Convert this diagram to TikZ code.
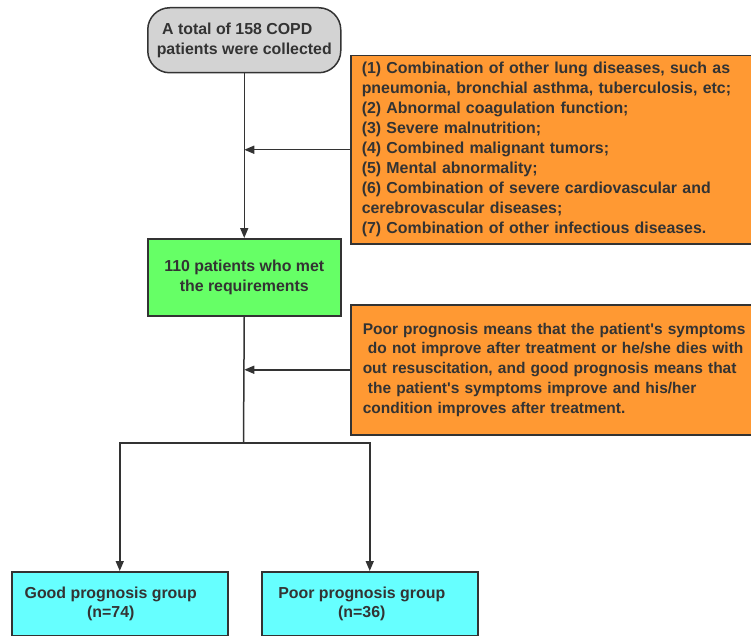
\documentclass[tikz,border=0pt]{standalone}
\usepackage{fontspec}
\setmainfont{Liberation Sans}
\usetikzlibrary{arrows.meta,calc}
\definecolor{bordc}{HTML}{333333}
\definecolor{txtc}{HTML}{333333}
\definecolor{grayf}{HTML}{D3D3D3}
\definecolor{orangef}{HTML}{FF9933}
\definecolor{greenf}{HTML}{66FF66}
\definecolor{cyanf}{HTML}{66FFFF}
\tikzset{
  box/.style={draw=bordc, line width=1.5pt, text=txtc, font=\fontsize{15.9}{20}\selectfont\bfseries, inner sep=0pt, anchor=north west},
  conn/.style={draw=bordc, line width=1.5pt, -{Triangle[length=10pt,width=8pt]}},
  plain/.style={draw=bordc, line width=1.5pt},
  lbl/.style={text=txtc, font=\fontsize{15.9}{19.5}\selectfont\bfseries, align=center, inner sep=0pt}
}
\newcommand{\qs}{\textquotesingle}
\begin{document}
\begin{tikzpicture}[x=1pt,y=-1pt]
\useasboundingbox (0,0) rectangle (751,636);
\node[box, fill=grayf, rounded corners=22pt, minimum width=193pt, minimum height=65pt, align=center] (top) at (147,7) {A total of 158 COPD\hspace*{14pt}\\patients were collected};
\node[box, fill=orangef, minimum width=410pt, minimum height=188pt, text width=420pt, inner xsep=11pt, align=left] (ex1) at (350,55) {(1) Combination of other lung diseases, such as\\pneumonia, bronchial asthma, tuberculosis, etc;\\(2) Abnormal coagulation function;\\(3) Severe malnutrition;\\(4) Combined malignant tumors;\\(5) Mental abnormality;\\(6) Combination of severe cardiovascular and\\cerebrovascular diseases;\\(7) Combination of other infectious diseases.};
\node[box, fill=greenf, minimum width=193pt, minimum height=77pt, align=center] (green) at (147,238) {110 patients who met\\the requirements};
\node[box, fill=orangef, minimum width=420pt, minimum height=130pt, text width=420pt, inner xsep=12pt, align=left, font=\fontsize{15.5}{19.8}\selectfont\bfseries] (ex2) at (350,304) {Poor prognosis means that the patient\qs s symptoms\\\ do not improve after treatment or he/she dies with\\out resuscitation, and good prognosis means that\\\ the patient\qs s symptoms improve and his/her\\condition improves after treatment.};
\node[box, fill=cyanf, minimum width=216pt, minimum height=64pt] (good) at (11,571) {};
\node[lbl] (goodt) at ($(good.center)+(-9,0)$) {Good prognosis group\\(n=74)};
\node[box, fill=cyanf, minimum width=216pt, minimum height=64pt] (poor) at (261,571) {};
\node[lbl] (poort) at ($(poor.center)+(-8,0)$) {Poor prognosis group\\(n=36)};
\coordinate (split) at (243.5,443);
\draw[conn] (top.south) -- (top.south |- green.north);
\draw[conn] (ex1.west) -- (ex1.west -| top.south);
\draw[conn] (ex2.west) -- (ex2.west -| top.south);
\draw[plain] (top.south |- green.south) -- (split);
\draw[conn] (split) -| (good.north);
\draw[conn] (split) -| (poor.north);
\end{tikzpicture}
\end{document}
